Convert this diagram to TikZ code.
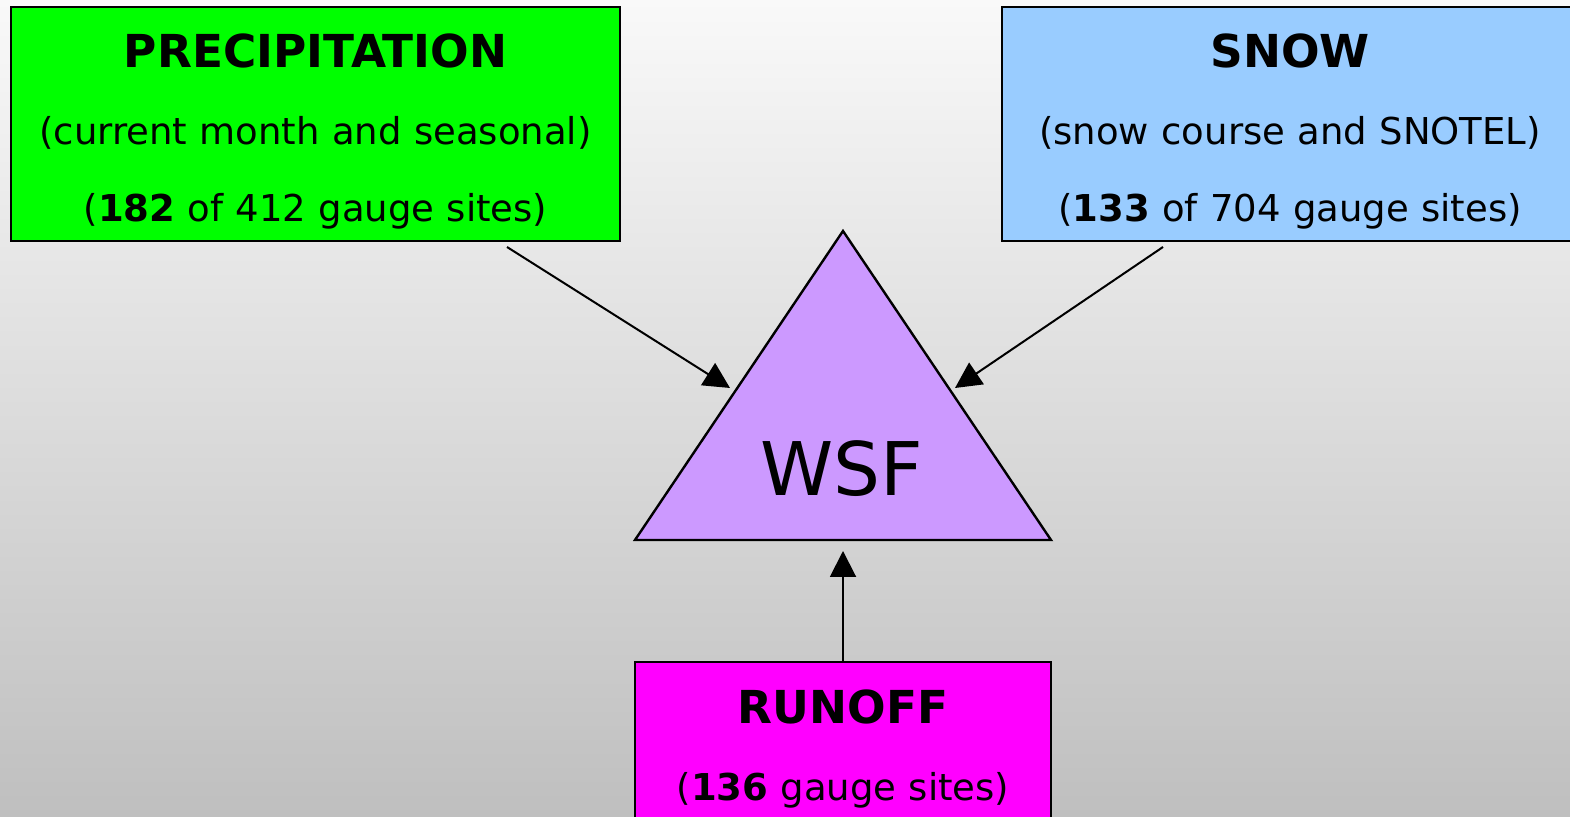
\documentclass[tikz,border=0pt]{standalone}
\usepackage{fontspec}
\setmainfont{DejaVu Sans}
\usepackage{xcolor}
\usetikzlibrary{arrows.meta}
\definecolor{precipgreen}{HTML}{00FF00}
\definecolor{snowblue}{HTML}{99CCFF}
\definecolor{runoffpink}{HTML}{FF00FF}
\definecolor{wsfpurple}{HTML}{CC99FF}
\definecolor{bgtop}{HTML}{F9F9F9}
\definecolor{bgbottom}{HTML}{BFBFBF}
\newcommand{\headtext}[1]{{\fontsize{22.7}{38.5}\selectfont\bfseries #1}}

\begin{document}
\begin{tikzpicture}[x=0.5pt, y=-0.5pt,
  every node/.style={font=\fontsize{18.5}{38.5}\selectfont},
  databox/.style={draw=black, line width=1.2pt, inner sep=0pt, align=center, anchor=north},
  feed/.style={line width=1pt, -{Triangle[length=13pt,width=13pt]}}]
\useasboundingbox (0,0) rectangle (1570,817);
\shade[top color=bgtop, bottom color=bgbottom] (0,0) rectangle (1570,817);
% Source boxes
\node[databox, fill=precipgreen, text width=304.5pt, text height=30pt, text depth=87pt] (precip) at (315.5,6)
  {\headtext{PRECIPITATION}\\(current month and seasonal)\\(\textbf{182} of 412 gauge sites)};
\node[databox, fill=snowblue, text width=288pt, text height=30pt, text depth=87pt] (snow) at (1290,6)
  {\headtext{SNOW}\\(snow course and SNOTEL)\\(\textbf{133} of 704 gauge sites)};
\node[databox, fill=runoffpink, text width=208pt, text height=30.5pt, text depth=90pt] (runoff) at (843,661)
  {\headtext{RUNOFF}\\(\textbf{136} gauge sites)};
% WSF triangle
\coordinate (wsftop) at (843,231);
\coordinate (wsfleft) at (635,540);
\coordinate (wsfright) at (1051,540);
\draw[fill=wsfpurple, line width=1.2pt, line join=miter] (wsftop) -- (wsfleft) -- (wsfright) -- cycle;
\node[font=\fontsize{37}{40}\selectfont] (wsf) at (842,469) {WSF};
% Arrows
\coordinate (precipout) at (507,247);
\coordinate (snowout) at (1163,247);
\coordinate (wsfinl) at (730,388);
\coordinate (wsfinr) at (955,388);
\coordinate (wsfinb) at (843,551);
\draw[feed] (precipout) -- (wsfinl);
\draw[feed] (snowout) -- (wsfinr);
\draw[feed] (runoff.north) -- (wsfinb);
\end{tikzpicture}
\end{document}
